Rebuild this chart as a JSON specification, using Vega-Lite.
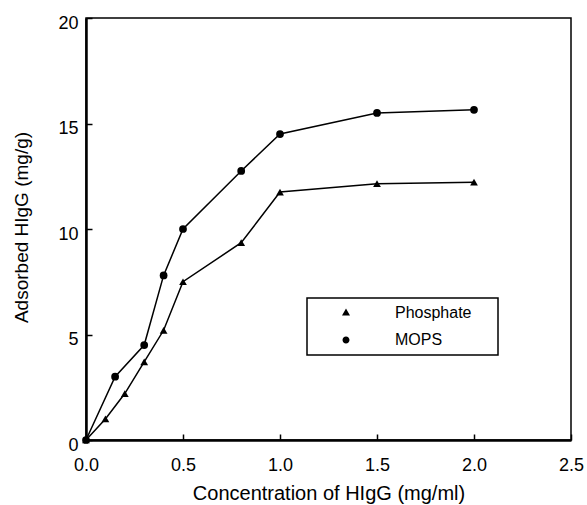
{
  "$schema": "https://vega.github.io/schema/vega-lite/v6.json",
  "width": 485,
  "height": 422,
  "autosize": {"type": "none"},
  "padding": {"left": 86, "top": 18, "right": 16, "bottom": 65},
  "background": "white",
  "config": {
    "font": "Liberation Sans",
    "view": {"stroke": "black", "strokeWidth": 1.5},
    "legend": {"strokeWidth": 1.5},
    "axis": {
      "grid": false,
      "domainColor": "black",
      "domainWidth": 2.5,
      "tickColor": "black",
      "tickWidth": 1.5,
      "tickSize": 6,
      "labelColor": "black",
      "titleColor": "black",
      "labelFont": "Liberation Sans",
      "titleFont": "Liberation Sans",
      "labelFontSize": 18,
      "titleFontSize": 19,
      "titleFontWeight": "normal",
      "labelFlush": false
    }
  },
  "data": {
    "values": [
      {"buffer": "Phosphate", "c": 0.0, "q": 0.0},
      {"buffer": "Phosphate", "c": 0.1, "q": 1.0},
      {"buffer": "Phosphate", "c": 0.2, "q": 2.2},
      {"buffer": "Phosphate", "c": 0.3, "q": 3.7},
      {"buffer": "Phosphate", "c": 0.4, "q": 5.2},
      {"buffer": "Phosphate", "c": 0.5, "q": 7.5},
      {"buffer": "Phosphate", "c": 0.8, "q": 9.35},
      {"buffer": "Phosphate", "c": 1.0, "q": 11.75},
      {"buffer": "Phosphate", "c": 1.5, "q": 12.15},
      {"buffer": "Phosphate", "c": 2.0, "q": 12.22},
      {"buffer": "MOPS", "c": 0.0, "q": 0.0},
      {"buffer": "MOPS", "c": 0.15, "q": 3.0},
      {"buffer": "MOPS", "c": 0.3, "q": 4.5},
      {"buffer": "MOPS", "c": 0.4, "q": 7.8},
      {"buffer": "MOPS", "c": 0.5, "q": 10.0},
      {"buffer": "MOPS", "c": 0.8, "q": 12.75},
      {"buffer": "MOPS", "c": 1.0, "q": 14.5},
      {"buffer": "MOPS", "c": 1.5, "q": 15.5},
      {"buffer": "MOPS", "c": 2.0, "q": 15.65}
    ]
  },
  "resolve": {
    "scale": {"x": "independent", "y": "independent"},
    "axis": {"x": "independent", "y": "independent"}
  },
  "layer": [
    {
      "mark": {"type": "line", "color": "black", "strokeWidth": 1.5},
      "encoding": {
        "x": {
          "field": "c",
          "type": "quantitative",
          "scale": {"domain": [0, 2.5], "nice": false, "zero": false},
          "axis": {
            "orient": "bottom",
            "title": "Concentration of HIgG (mg/ml)",
            "titleFontSize": 20,
            "ticks": false,
            "labels": false,
            "titleY": 59,
            "titleBaseline": "alphabetic"
          }
        },
        "y": {
          "field": "q",
          "type": "quantitative",
          "scale": {"domain": [0, 20], "nice": false},
          "axis": {
            "orient": "left",
            "title": "Adsorbed HIgG (mg/g)",
            "ticks": false,
            "labels": false,
            "titleX": -65,
            "titleY": 209,
            "titleBaseline": "middle"
          }
        },
        "detail": {"field": "buffer"}
      }
    },
    {
      "transform": [{"filter": "datum.buffer === 'Phosphate'"}],
      "mark": {"type": "point", "shape": "triangle-up", "filled": true, "color": "black", "opacity": 1, "size": 60},
      "encoding": {
        "x": {
          "field": "c",
          "type": "quantitative",
          "scale": {"domain": [0, 2.5], "nice": false, "zero": false},
          "axis": {
            "orient": "bottom",
            "title": null,
            "domain": false,
            "offset": -6,
            "values": [0, 0.5, 1, 1.5, 2, 2.5],
            "format": ".1f",
            "labelPadding": 30,
            "labelBaseline": "alphabetic"
          }
        },
        "y": {
          "field": "q",
          "type": "quantitative",
          "scale": {"domain": [0, 20], "nice": false},
          "axis": {
            "orient": "left",
            "title": null,
            "domain": false,
            "offset": -6,
            "values": [0, 5, 10, 15, 20],
            "labelPadding": 8,
            "labelOffset": 5,
            "labelBaseline": "middle"
          }
        }
      }
    },
    {
      "transform": [{"filter": "datum.buffer === 'MOPS'"}],
      "mark": {"type": "point", "shape": "circle", "filled": true, "color": "black", "opacity": 1, "size": 60},
      "encoding": {
        "x": {"field": "c", "type": "quantitative", "scale": {"domain": [0, 2.5], "nice": false, "zero": false}, "axis": null},
        "y": {"field": "q", "type": "quantitative", "scale": {"domain": [0, 20], "nice": false}, "axis": null}
      }
    },
    {
      "mark": {"type": "point", "filled": true, "fill": "black", "stroke": "black", "strokeWidth": 1.5, "opacity": 0},
      "encoding": {
        "x": {"field": "c", "type": "quantitative", "scale": {"domain": [0, 2.5], "nice": false, "zero": false}, "axis": null},
        "y": {"field": "q", "type": "quantitative", "scale": {"domain": [0, 20], "nice": false}, "axis": null},
        "shape": {
          "field": "buffer",
          "type": "nominal",
          "scale": {"domain": ["Phosphate", "MOPS"], "range": ["M-6.26,0L6.26,0M-0.8,0.5L0.8,0.5L0,-0.9Z", "M-6.26,0L6.26,0M0.7,0A0.7,0.7,0,1,1,-0.7,0A0.7,0.7,0,1,1,0.7,0Z"]},
          "legend": {
            "title": " ",
            "titleOrient": "right",
            "titlePadding": 19,
            "titleFontSize": 4,
            "orient": "none",
            "legendX": 221,
            "legendY": 280,
            "strokeColor": "black",
            "fillColor": "white",
            "padding": 7,
            "symbolSize": 100,
            "symbolOffset": 24,
            "symbolOpacity": 1,
            "symbolFillColor": "black",
            "symbolStrokeColor": "black",
            "symbolStrokeWidth": 1.5,
            "labelFontSize": 16,
            "labelFont": "Liberation Sans",
            "labelColor": "black",
            "labelOffset": 41,
            "rowPadding": 11,
            "encode": {
              "symbols": {
                "update": {
                  "stroke": {"value": "black"},
                  "strokeWidth": {"signal": "1.5"},
                  "strokeOpacity": {"signal": "1"}
                }
              }
            }
          }
        }
      }
    }
  ]
}
